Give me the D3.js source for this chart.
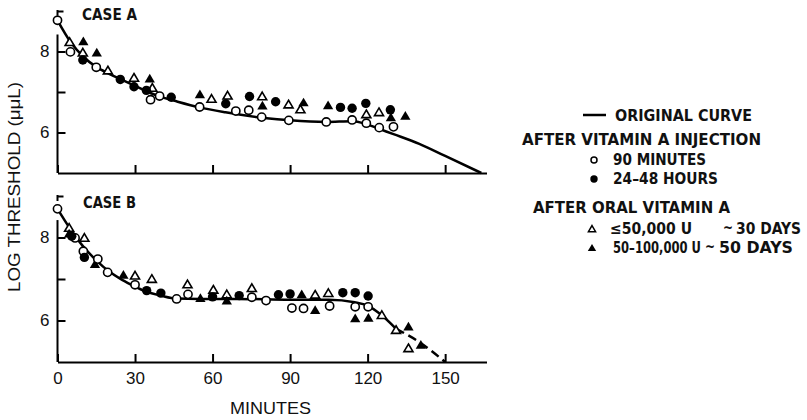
<!DOCTYPE html>
<html>
<head>
<meta charset="utf-8">
<script src="https://cdn.jsdelivr.net/npm/d3@7"></script>
<style>
  body { margin: 0; background: #fff; }
</style>
</head>
<body>
<div id="chart"></div>
<script>
// Values: [minutes, log threshold]
const aCurve = [[0,8.77],[5,8.24],[10,7.87],[15,7.62],[20,7.45],[25,7.3],[30,7.15],[35,7.0],[40,6.88],[46,6.77],[55,6.62],[65,6.5],[80,6.36],[90,6.3],[104,6.26],[114,6.28],[119,6.22],[124,6.1],[130,5.96],[140,5.72],[150,5.42],[164,5.0]];
const aOpenCircles = [[0,8.77],[5,7.99],[15,7.61],[36,6.81],[39.5,6.9],[55,6.63],[69,6.53],[74,6.55],[79,6.38],[89.5,6.3],[104,6.26],[114,6.31],[119.5,6.23],[124.5,6.12],[130,6.14]];
const aFilledCircles = [[9.8,7.79],[24.3,7.31],[29.6,7.13],[34.4,7.04],[44,6.87],[65.1,6.71],[74.3,6.89],[84.4,6.76],[109.5,6.62],[114,6.6],[119.3,6.72],[128.8,6.56]];
const aOpenTriangles = [[4.7,8.23],[9.8,7.97],[19.5,7.53],[29.6,7.35],[36.7,7.1],[59.6,6.83],[65.8,6.91],[79.2,6.89],[89.4,6.69],[94,6.57],[119.5,6.45],[124.4,6.5]];
const aFilledTriangles = [[10,8.25],[15.2,7.97],[35.7,7.33],[55.1,6.94],[79.3,6.66],[95.2,6.74],[104.7,6.67],[129,6.37],[134.6,6.41]];

const bCurve = [[0,8.69],[5,8.2],[10,7.78],[15,7.45],[20,7.18],[25,6.98],[30,6.82],[35,6.68],[40,6.6],[46,6.53],[55,6.52],[70,6.52],[90,6.5],[105,6.5],[115,6.44],[120,6.36],[125,6.15],[131,5.8]];
const bCurveDashed = [[131,5.8],[140,5.48],[150,5.0]];
const bOpenCircles = [[0,8.69],[6.8,7.99],[10,7.67],[15.6,7.48],[19.4,7.16],[30,6.86],[46.1,6.52],[50.5,6.63],[75.2,6.56],[80.7,6.48],[90.7,6.3],[95.2,6.29],[105.3,6.35],[115.2,6.33],[120.2,6.33]];
const bFilledCircles = [[5.5,8.03],[10.4,7.52],[34.5,6.72],[40,6.66],[60,6.57],[70.3,6.6],[85.5,6.62],[90,6.64],[110.4,6.67],[115.2,6.67],[120.2,6.59]];
const bOpenTriangles = [[4.5,8.23],[10.4,7.99],[30,7.08],[36.5,7.0],[50.3,6.87],[60.3,6.74],[65.5,6.63],[75.2,6.78],[99.7,6.62],[104.8,6.66],[125.5,6.13],[131,5.77],[135.8,5.33]];
const bFilledTriangles = [[4.5,8.09],[14.5,7.36],[25.5,7.1],[55.3,6.54],[65.5,6.48],[94.5,6.63],[99.7,6.25],[115.2,6.05],[120.3,6.06],[135.8,5.85],[140.6,5.41]];

const xTicks = [0, 30, 60, 90, 120, 150];
const yTicks = [6, 7, 8, 9];
const yLabelled = [6, 8];

const legendCurve = "ORIGINAL CURVE";
const legendInjection = ["AFTER VITAMIN A INJECTION", "90 MINUTES", "24\u201348 HOURS"];
const legendOral = ["AFTER ORAL VITAMIN A", "\u226450,000 U", "50\u2013100,000 U"];
const legendDays = ["30 DAYS", "50 DAYS"];

const boldFont = "'Liberation Sans Narrow', 'DejaVu Sans Condensed', 'Liberation Sans', sans-serif";
const plainFont = "'Liberation Sans', Arial, sans-serif";

const svg = d3.select("#chart")
    .append("svg")
    .attr("width", 807)
    .attr("height", 420);

const x = d3.scaleLinear().domain([0, 166]).range([57.5, 486.5]);
const yA = d3.scaleLinear().domain([5, 9]).range([173, 173 - 4 * 40.5]);
const yB = d3.scaleLinear().domain([5, 9]).range([362, 362 - 4 * 41.5]);

// triangle marker path centred on the point
function tri(s) {
    return "M0," + (-s) + "L" + (s * 1.05) + "," + (s * 0.78) + "L" + (-s * 1.05) + "," + (s * 0.78) + "Z";
}

function drawPanel(y, curve, dashed, oc, fc, ot, ft, showLabels) {
    const g = svg.append("g");

    // x axis, ticks pointing up
    const xa = g.append("g")
        .attr("transform", "translate(0," + y(5) + ")")
        .call(d3.axisBottom(x)
            .tickValues(xTicks)
            .tickSizeInner(-8)
            .tickSizeOuter(0)
            .tickPadding(10)
            .tickFormat(showLabels ? d3.format("d") : ""));
    xa.select(".domain").attr("stroke-width", 2);
    xa.selectAll(".tick line").attr("stroke-width", 2);
    xa.selectAll("text")
        .style("font-family", plainFont)
        .style("font-size", "17px")
        .attr("fill", "#111");

    // y axis, ticks pointing right
    const ya = g.append("g")
        .attr("transform", "translate(" + x(0) + ",0)")
        .call(d3.axisLeft(y)
            .tickValues(yTicks)
            .tickSizeInner(-8)
            .tickSizeOuter(0)
            .tickPadding(8)
            .tickFormat(d => yLabelled.includes(d) ? d : ""));
    ya.select(".domain").remove();
    ya.selectAll(".tick line").attr("stroke-width", 2).attr("x2", d => d === 9 ? 6 : 8);
    ya.selectAll("text")
        .style("font-family", plainFont)
        .style("font-size", "17px")
        .attr("fill", "#111");
    ya.append("line")
        .attr("y1", y(5)).attr("y2", y(8.42))
        .attr("stroke", "#000").attr("stroke-width", 2);
    ya.append("line")
        .attr("y1", y(9) - 1).attr("y2", y(8.88))
        .attr("stroke", "#000").attr("stroke-width", 2);

    const line = d3.line()
        .x(d => x(d[0]))
        .y(d => y(d[1]))
        .curve(d3.curveMonotoneX);

    g.append("path")
        .datum(curve)
        .attr("fill", "none")
        .attr("stroke", "#000")
        .attr("stroke-width", 2.5)
        .attr("d", line);

    if (dashed) {
        g.append("path")
            .datum(dashed)
            .attr("fill", "none")
            .attr("stroke", "#000")
            .attr("stroke-width", 2.5)
            .attr("stroke-dasharray", "9,5")
            .attr("d", line);
    }

    g.selectAll(".ot")
        .data(ot)
        .enter().append("path")
        .attr("transform", d => "translate(" + x(d[0]) + "," + y(d[1]) + ")")
        .attr("d", tri(4.3))
        .attr("fill", "#fff")
        .attr("stroke", "#000")
        .attr("stroke-width", 1.6);

    g.selectAll(".ft")
        .data(ft)
        .enter().append("path")
        .attr("transform", d => "translate(" + x(d[0]) + "," + y(d[1]) + ")")
        .attr("d", tri(4.9))
        .attr("fill", "#000");

    g.selectAll(".oc")
        .data(oc)
        .enter().append("circle")
        .attr("cx", d => x(d[0]))
        .attr("cy", d => y(d[1]))
        .attr("r", 4.1)
        .attr("fill", "#fff")
        .attr("stroke", "#000")
        .attr("stroke-width", 1.6);

    g.selectAll(".fc")
        .data(fc)
        .enter().append("circle")
        .attr("cx", d => x(d[0]))
        .attr("cy", d => y(d[1]))
        .attr("r", 4.7)
        .attr("fill", "#000");
}

drawPanel(yA, aCurve, null, aOpenCircles, aFilledCircles, aOpenTriangles, aFilledTriangles, false);
drawPanel(yB, bCurve, bCurveDashed, bOpenCircles, bFilledCircles, bOpenTriangles, bFilledTriangles, true);

// bold condensed labels
function boldText(str, px, py, w) {
    return svg.append("text")
        .attr("x", px)
        .attr("y", py)
        .attr("textLength", w)
        .attr("lengthAdjust", "spacingAndGlyphs")
        .style("font-family", boldFont)
        .style("font-weight", "bold")
        .style("font-size", "15.5px")
        .attr("fill", "#111")
        .text(str);
}

boldText("CASE A", 82, 20, 55);
boldText("CASE B", 83, 208, 53);

// axis titles
svg.append("text")
    .attr("x", 230)
    .attr("y", 414)
    .attr("textLength", 81)
    .attr("lengthAdjust", "spacingAndGlyphs")
    .style("font-family", plainFont)
    .style("font-size", "16.5px")
    .attr("fill", "#111")
    .text("MINUTES");

svg.append("text")
    .attr("transform", "translate(20,292) rotate(-90)")
    .attr("textLength", 210)
    .attr("lengthAdjust", "spacingAndGlyphs")
    .style("font-family", plainFont)
    .style("font-size", "16.5px")
    .attr("fill", "#111")
    .text("LOG THRESHOLD (\u03bc\u03bcL)");

// legend
svg.append("line")
    .attr("x1", 583).attr("x2", 606)
    .attr("y1", 115).attr("y2", 115)
    .attr("stroke", "#000").attr("stroke-width", 2.5);
boldText(legendCurve, 615, 121, 137);

boldText(legendInjection[0], 522, 145, 239);
svg.append("circle").attr("cx", 594).attr("cy", 160).attr("r", 3)
    .attr("fill", "#fff").attr("stroke", "#000").attr("stroke-width", 1.5);
boldText(legendInjection[1], 613, 165, 93);
svg.append("circle").attr("cx", 594).attr("cy", 179).attr("r", 3.7).attr("fill", "#000");
boldText(legendInjection[2], 613, 184, 105);

boldText(legendOral[0], 533, 213, 197);
svg.append("path").attr("transform", "translate(592,229)").attr("d", tri(3.4))
    .attr("fill", "#fff").attr("stroke", "#000").attr("stroke-width", 1.5);
svg.append("path").attr("transform", "translate(592,248)").attr("d", tri(4)).attr("fill", "#000");

// dose and duration rows: one text each, pieces placed as tspans
const doseRows = [
    { y: 234, parts: [[610, legendOral[1], 82], [723, "~", 10], [736, legendDays[0], 65]] },
    { y: 253, parts: [[613, legendOral[2], 88], [705, "~", 10], [719, legendDays[1], 74]] }
];
doseRows.forEach(function(row) {
    const t = svg.append("text")
        .attr("y", row.y)
        .style("font-family", boldFont)
        .style("font-weight", "bold")
        .style("font-size", "15.5px")
        .attr("fill", "#111");
    row.parts.forEach(function(p) {
        t.append("tspan")
            .attr("x", p[0])
            .attr("y", p[1] === "~" ? row.y - 1 : row.y)
            .attr("textLength", p[2])
            .attr("lengthAdjust", "spacingAndGlyphs")
            .text(p[1]);
    });
});
</script>
</body>
</html>
